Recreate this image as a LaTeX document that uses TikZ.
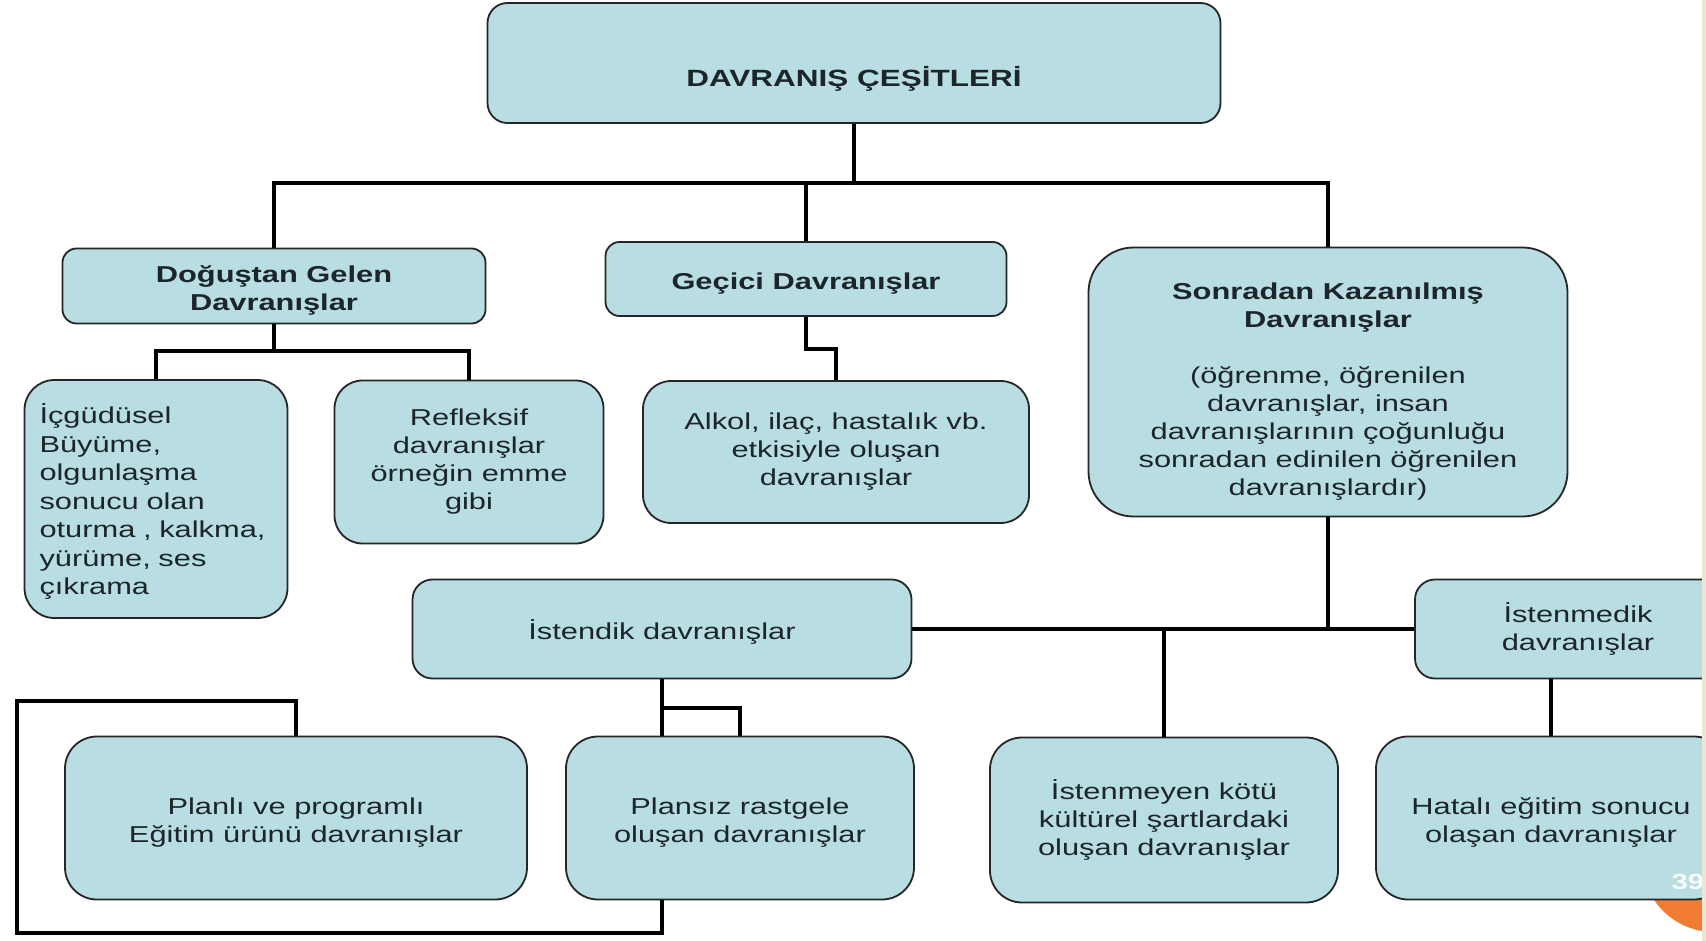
\documentclass[tikz,border=0pt]{standalone}
\usepackage{fontspec}
\setmainfont[FakeStretch=1.34]{Liberation Sans}
\usetikzlibrary{positioning,calc}
\definecolor{boxblue}{RGB}{184,221,226}
\definecolor{slideorange}{RGB}{240,125,50}
\definecolor{stripgreen}{RGB}{230,234,212}
\definecolor{boxtext}{RGB}{28,38,42}
\tikzstyle{box} = [rectangle, rounded corners=20pt, draw=black!85, line width=1.8pt, fill=boxblue, align=center, text=boxtext, font=\fontsize{23}{28}\selectfont]
\tikzstyle{conn} = [line width=4pt, line join=miter]

\begin{document}
\begin{tikzpicture}[x=1pt,y=-1pt]
\useasboundingbox (0,0) rectangle (1706,941);
\clip (0,0) rectangle (1706,941);
\fill[white] (0,0) rectangle (1706,941);
\fill[slideorange] (1714,860) circle (72pt);
% first level
\draw (854,63) node (top) [box, minimum width=733pt, minimum height=120pt, font=\fontsize{23.5}{26}\selectfont\bfseries] {\rule{0pt}{51pt}DAVRANIŞ ÇEŞİTLERİ};
\draw (274,286) node (dogus) [box, rounded corners=14pt, minimum width=423pt, minimum height=75pt, font=\fontsize{23}{28}\selectfont\bfseries] {\rule{0pt}{25pt}Doğuştan Gelen\\Davranışlar};
\draw (806,279) node (gecici) [box, rounded corners=14pt, minimum width=401pt, minimum height=74pt, font=\fontsize{23}{28}\selectfont\bfseries] {\rule{0pt}{26pt}Geçici Davranışlar};
\draw (1328,382) node (sonra) [box, rounded corners=45pt, minimum width=479pt, minimum height=269pt] {\bfseries\rule{0pt}{35pt}Sonradan Kazanılmış\\\bfseries Davranışlar\\[28pt](öğrenme, öğrenilen\\davranışlar, insan\\davranışlarının çoğunluğu\\sonradan edinilen öğrenilen\\davranışlardır)};
% second level
\draw (156,499) node (icgud) [box, rounded corners=30pt, minimum width=263pt, minimum height=238pt, text width=233pt, inner xsep=15pt, align=left, font=\fontsize{23}{28.5}\selectfont] {\rule{0pt}{25pt}İçgüdüsel\\Büyüme,\\olgunlaşma\\sonucu olan\\oturma , kalkma,\\yürüme, ses\\çıkrama};
\draw (469,462) node (refleks) [box, rounded corners=28pt, minimum width=269pt, minimum height=163pt] {Refleksif\\davranışlar\\örneğin emme\\gibi};
\draw (836,452) node (alkol) [box, rounded corners=28pt, minimum width=386pt, minimum height=142pt] {Alkol, ilaç, hastalık vb.\\etkisiyle oluşan\\davranışlar};
\draw (662,629) node (istendik) [box, minimum width=499pt, minimum height=99pt] {\rule{0pt}{25pt}İstendik davranışlar};
\draw (1578,629) node (istenmedik) [box, minimum width=326pt, minimum height=99pt] {İstenmedik\\davranışlar};
% third level
\draw (296,818) node (planli) [box, rounded corners=32pt, minimum width=462pt, minimum height=163pt] {\rule{0pt}{26pt}Planlı ve programlı\\Eğitim ürünü davranışlar};
\draw (740,818) node (plansiz) [box, rounded corners=32pt, minimum width=348pt, minimum height=163pt] {\rule{0pt}{26pt}Plansız rastgele\\oluşan davranışlar};
\draw (1164,820) node (istenmeyen) [box, rounded corners=32pt, minimum width=348pt, minimum height=165pt] {İstenmeyen kötü\\kültürel şartlardaki\\oluşan davranışlar};
\draw (1551,818) node (hatali) [box, rounded corners=32pt, minimum width=350pt, minimum height=163pt] {\rule{0pt}{26pt}Hatalı eğitim sonucu\\olaşan davranışlar};
% connectors
\coordinate (bar) at (854,183);
\coordinate (dbar) at (275,351);
\coordinate (sbar) at (1328,630);
\coordinate (lbot) at (17,933);
\coordinate (ltop) at (17,701);
\draw[conn] (top.south) -- (bar);
\draw[conn] (dogus.north) |- (bar) -| (sonra.north);
\draw[conn] (gecici.north) -- (gecici.north |- bar);
\draw[conn] (dogus.south) -- (dogus.south |- dbar);
\draw[conn] (icgud.north) |- (dbar) -| (refleks.north);
\draw[conn] (gecici.south) -- ++(0,32) -| (alkol.north);
\draw[conn] (sonra.south) -- (sbar);
\draw[conn] (istendik.east) -- (istenmedik.west);
\draw[conn] (istenmeyen.north) -- (istenmeyen.north |- sbar);
\draw[conn] (hatali.north) -- (hatali.north |- istenmedik.south);
\draw[conn] (istendik.south) -- (istendik.south |- plansiz.north);
\draw[conn] (istendik.south) ++(0,29) -| (plansiz.north);
\draw[conn] (istendik.south |- plansiz.south) |- (lbot) -- (ltop) -| (planli.north);
% slide leftovers
\node (pagenum) [anchor=west, text=white!90!boxblue, font=\fontsize{22}{22}\selectfont\bfseries] at (1668,882) {39};
\fill[stripgreen] (1702,0) rectangle (1706,941);
\end{tikzpicture}
\end{document}
